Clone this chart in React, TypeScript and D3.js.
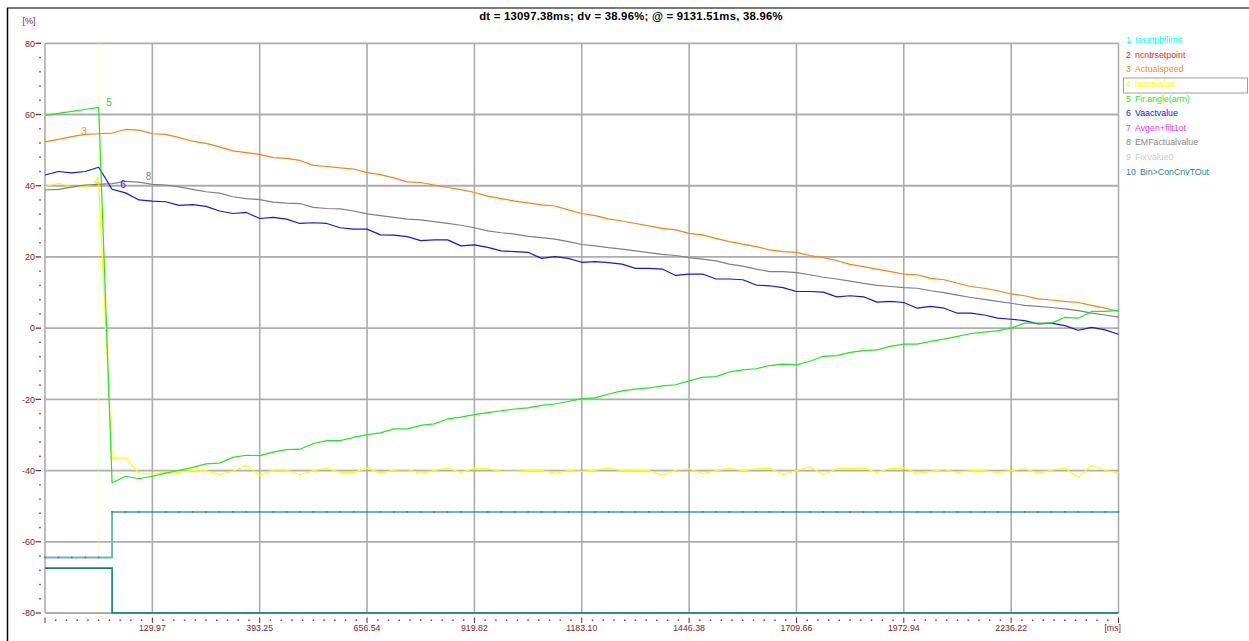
import React from "react";
import * as d3 from "d3";

// ---- data ----
const T0 = -133.31; // ms, first sample
const DT = 32.91; // ms, sample period
const sampleTimes = d3.range(81).map((i) => T0 + i * DT);

const actualSpeed = [
  52.3, 53.0, 53.8, 54.4, 54.6, 54.8, 55.8, 55.6, 54.6, 54.4, 53.5, 52.5, 51.9, 50.9, 49.8, 49.3, 48.8, 47.9, 47.7, 47.1, 45.7,
  45.4, 45.0, 44.7, 43.7, 43.1, 42.2, 41.1, 40.9, 40.2, 39.5, 38.9, 38.1, 37.1, 36.4, 35.7, 35.2, 34.6, 34.3, 33.2, 32.2,
  31.6, 30.7, 30.1, 29.4, 28.7, 28.0, 27.6, 26.6, 26.2, 25.2, 24.3, 23.6, 22.9, 22.0, 21.5, 21.3, 20.4, 19.8, 19.0, 17.9,
  17.3, 16.6, 15.9, 15.2, 15.0, 14.0, 13.6, 12.6, 11.7, 11.2, 10.5, 9.6, 9.1, 8.2, 7.9, 7.5, 7.2, 6.4, 5.6, 4.7,
];
const emfActual = [
  38.8, 39.0, 39.6, 40.2, 40.4, 40.6, 41.2, 41.0, 40.4, 40.2, 39.7, 39.0, 38.3, 37.9, 36.9, 36.4, 36.1, 35.4, 35.1, 35.0, 33.9,
  33.6, 33.5, 32.9, 32.1, 31.6, 31.1, 30.6, 30.4, 29.9, 29.4, 28.9, 28.2, 27.3, 26.8, 26.4, 25.8, 25.4, 25.0, 24.3, 23.5,
  23.1, 22.6, 22.2, 21.7, 21.2, 20.7, 20.4, 19.8, 19.4, 18.9, 18.0, 17.4, 16.6, 15.9, 15.9, 15.6, 15.0, 14.3, 13.8, 13.2,
  12.6, 12.0, 11.7, 11.4, 11.2, 10.5, 10.0, 9.3, 8.6, 8.1, 7.5, 7.0, 6.4, 6.1, 5.8, 5.4, 4.9, 4.2, 3.7, 3.1,
];
const vaActual = [
  43.0, 44.0, 43.6, 44.0, 45.2, 39.0, 38.0, 36.0, 35.7, 35.5, 34.5, 34.7, 34.2, 32.9, 32.2, 32.5, 30.8, 31.1, 30.6, 29.4, 29.6,
  29.4, 28.2, 27.8, 27.8, 26.2, 26.1, 25.7, 24.6, 24.8, 24.8, 23.1, 23.4, 22.7, 21.7, 21.5, 21.3, 19.6, 20.1, 19.6, 18.5,
  18.7, 18.4, 18.0, 16.8, 16.8, 16.6, 14.8, 15.2, 15.2, 13.8, 13.8, 13.6, 12.1, 11.9, 11.4, 10.3, 10.3, 10.1, 8.8, 9.1,
  8.8, 7.3, 7.5, 7.2, 5.6, 6.1, 5.6, 4.2, 4.2, 3.7, 2.8, 2.5, 2.1, 1.2, 1.4, 0.7, -0.6, 0.2, -0.5, -1.7,
];
const firAngle = [
  59.8, 60.3, 60.9, 61.4, 62.0, -43.5, -41.6, -42.3, -41.6, -40.7, -39.9, -39.1, -38.1, -37.9, -36.3, -35.7, -35.8, -34.8, -34.1, -34.0, -32.4,
  -31.6, -31.6, -30.7, -29.9, -29.4, -28.3, -28.3, -27.3, -26.9, -25.5, -25.0, -24.3, -23.7, -23.2, -22.7, -22.4, -21.7, -21.3, -20.6, -19.8,
  -19.6, -18.5, -17.6, -17.1, -16.8, -16.2, -15.9, -14.8, -13.8, -13.6, -12.3, -11.7, -11.4, -10.5, -10.1, -10.3, -9.3, -7.9, -7.7, -6.8,
  -6.3, -6.1, -5.1, -4.5, -4.5, -3.7, -3.1, -2.3, -1.5, -1.1, -0.7, 0.0, 1.4, 1.4, 1.4, 3.0, 2.8, 4.7, 4.7, 5.0,
];
const iaActual = [
  39.7, 40.7, 39.7, 39.7, 40.7, -36.6, -36.4, -40.7, -40.9, -40.5, -40.5, -39.9, -40.0, -41.1, -40.2, -38.6, -41.3, -39.9, -39.9, -41.1, -40.0,
  -39.4, -40.5, -40.5, -39.3, -40.7, -39.9, -39.7, -40.8, -40.0, -39.3, -40.5, -39.4, -39.5, -40.2, -40.2, -40.0, -39.9, -40.8, -40.0, -40.2,
  -39.9, -39.4, -40.0, -40.0, -40.0, -41.3, -39.9, -39.5, -40.9, -40.0, -39.4, -40.0, -39.5, -39.4, -41.1, -40.0, -39.0, -41.1, -39.5, -39.4,
  -39.3, -40.5, -39.4, -39.3, -40.8, -40.2, -39.7, -40.5, -40.0, -40.0, -40.5, -40.0, -39.5, -40.7, -39.9, -39.3, -41.9, -38.5, -39.9, -40.7,
];
const binOut = [
  -64.4, -64.4, -64.4, -64.4, -64.4, -51.6, -51.6, -51.6, -51.6, -51.6, -51.6, -51.6, -51.6, -51.6, -51.6, -51.6, -51.6, -51.6, -51.6, -51.6, -51.6,
  -51.6, -51.6, -51.6, -51.6, -51.6, -51.6, -51.6, -51.6, -51.6, -51.6, -51.6, -51.6, -51.6, -51.6, -51.6, -51.6, -51.6, -51.6, -51.6, -51.6,
  -51.6, -51.6, -51.6, -51.6, -51.6, -51.6, -51.6, -51.6, -51.6, -51.6, -51.6, -51.6, -51.6, -51.6, -51.6, -51.6, -51.6, -51.6, -51.6, -51.6,
  -51.6, -51.6, -51.6, -51.6, -51.6, -51.6, -51.6, -51.6, -51.6, -51.6, -51.6, -51.6, -51.6, -51.6, -51.6, -51.6, -51.6, -51.6, -51.6, -51.6,
];
const binOutRaw = [
  -67.4, -67.4, -67.4, -67.4, -67.4, -80, -80, -80, -80, -80, -80, -80, -80, -80, -80, -80, -80, -80, -80, -80, -80,
  -80, -80, -80, -80, -80, -80, -80, -80, -80, -80, -80, -80, -80, -80, -80, -80, -80, -80, -80, -80,
  -80, -80, -80, -80, -80, -80, -80, -80, -80, -80, -80, -80, -80, -80, -80, -80, -80, -80, -80, -80,
  -80, -80, -80, -80, -80, -80, -80, -80, -80, -80, -80, -80, -80, -80, -80, -80, -80, -80, -80, -80,
];

const xTickValues = [129.97, 393.25, 656.54, 919.82, 1183.1, 1446.38, 1709.66, 1972.94, 2236.22];
const xTickLabels = ["129.97", "393.25", "656.54", "919.82", "1183.10", "1446.38", "1709.66", "1972.94", "2236.22"];
const yTickValues = [80, 60, 40, 20, 0, -20, -40, -60, -80];

const legendNames = [
  "Iasetpbflimit",
  "ncntrsetpoint",
  "Actualspeed",
  "Iaactvalue",
  "Fir.angle(arm)",
  "Vaactvalue",
  "Avgen+filt1ot",
  "EMFactualvalue",
  "FixValue0",
  "Bin>ConCnvTOut",
];
const legendColors = ["#00ffff", "#ff2020", "#ff8c1a", "#ffff00", "#22ee22", "#1010ff", "#ff30ff", "#888888", "#cccccc", "#168c8c"];

const titleText = "dt = 13097.38ms; dv = 38.96%; @ = 9131.51ms, 38.96%";
const cursorTime = sampleTimes[4];

// ---- layout ----
const W = 1249;
const H = 641;
const L = 45;
const R = 1118.5;
const T = 43.3;
const B = 613;
const AXIS = "#8b1c1c";
const GRID = "#adadad";
const FONT = "'Liberation Sans', Arial, sans-serif";

export default function App() {
  const x = d3.scaleLinear().domain([T0, T0 + 80 * DT]).range([L, R]);
  const y = d3.scaleLinear().domain([-80, 80]).range([B, T]);

  const line = (vals: number[], curve = d3.curveLinear) =>
    d3
      .line<number>()
      .x((_, i) => x(sampleTimes[i]))
      .y((v) => y(v))
      .curve(curve)(vals) || "";

  const gridStep = 263.28;
  const gridX = d3.range(11).map((k) => T0 + k * gridStep);
  const minorX = d3.range(101).map((k) => T0 + (k * gridStep) / 10);
  const minorY = d3.range(-80, 81, 4);

  const series = [
    { vals: iaActual, color: "#ffff00", w: 1.2 },
    { vals: emfActual, color: "#808080", w: 1.2 },
    { vals: actualSpeed, color: "#ff8010", w: 1.2 },
    { vals: vaActual, color: "#1414f0", w: 1.2 },
    { vals: firAngle, color: "#1ee81e", w: 1.2 },
  ];

  return (
    <svg width={W} height={H} style={{ position: "absolute", left: 0, top: 0, background: "#fff" }} fontFamily={FONT}>
      {/* frame */}
      <line x1={7} x2={W} y1={8} y2={8} stroke="#7a7a7a" strokeWidth={2} />
      <line x1={7.5} x2={7.5} y1={8} y2={H} stroke="#000" strokeWidth={1.5} />

      {/* title */}
      <text x={631} y={19.5} textAnchor="middle" fontSize={11.3} letterSpacing={0.25} fontWeight="bold" fill="#000">
        {titleText}
      </text>

      {/* grid */}
      {gridX.map((t, k) => (
        <line key={"gx" + k} x1={x(t)} x2={x(t)} y1={T} y2={B} stroke={GRID} strokeWidth={1.6} />
      ))}
      {yTickValues.map((v) => (
        <line key={"gy" + v} x1={L} x2={R} y1={y(v)} y2={y(v)} stroke={GRID} strokeWidth={1.8} />
      ))}

      {/* y axis */}
      <text x={29} y={24} textAnchor="middle" fontSize={9} fill={AXIS}>
        [%]
      </text>
      {yTickValues.map((v) => (
        <g key={"yt" + v}>
          <text x={35} y={y(v) + 3.2} textAnchor="end" fontSize={9} fill={AXIS}>
            {v}
          </text>
          <line x1={35.5} x2={41} y1={y(v)} y2={y(v)} stroke={AXIS} strokeWidth={1.2} />
        </g>
      ))}
      {minorY
        .filter((v) => v % 20 !== 0)
        .map((v) => (
          <rect key={"my" + v} x={39.3} y={y(v) - 0.7} width={1.4} height={1.4} fill={AXIS} />
        ))}

      {/* x axis */}
      {minorX.map((t, k) =>
        k % 10 === 0 ? (
          <line key={"mx" + k} x1={x(t)} x2={x(t)} y1={617.5} y2={623} stroke={AXIS} strokeWidth={1} />
        ) : (
          <rect key={"mx" + k} x={x(t) - 0.7} y={619.5} width={1.4} height={1.4} fill={AXIS} />
        )
      )}
      {xTickValues.map((t, k) => (
        <text key={"xl" + k} x={x(t)} y={631} textAnchor="middle" fontSize={8.8} fill={AXIS}>
          {xTickLabels[k]}
        </text>
      ))}
      <text x={1121} y={631} textAnchor="end" fontSize={8.8} fill={AXIS}>
        [ms]
      </text>

      {/* cursor */}
      <line
        x1={x(cursorTime)}
        x2={x(cursorTime)}
        y1={T}
        y2={B}
        stroke="#ffff70"
        strokeWidth={1}
        strokeDasharray="1,1"
      />

      {/* binary signals */}
      <path d={line(binOutRaw, d3.curveStepAfter)} fill="none" stroke="#0a7f80" strokeWidth={1.6} />
      <path d={line(binOut, d3.curveStepAfter)} fill="none" stroke="#6fb6b6" strokeWidth={2} />
      {binOut.map((v, i) => (
        <rect key={"bm" + i} x={x(sampleTimes[i]) - 0.8} y={y(v) - 0.8} width={1.6} height={1.6} fill="#2a8a8a" />
      ))}

      {/* analog signals */}
      {series.map((s, k) => (
        <path key={"s" + k} d={line(s.vals)} fill="none" stroke={s.color} strokeWidth={s.w} strokeLinejoin="round" />
      ))}

      {/* curve labels */}
      <text x={109} y={106} textAnchor="middle" fontSize={10} fill="#22dd22">5</text>
      <text x={84} y={135} textAnchor="middle" fontSize={10} fill="#ff8c1a">3</text>
      <text x={123} y={187.5} textAnchor="middle" fontSize={10} fill="#2020ff">6</text>
      <text x={148.5} y={180} textAnchor="middle" fontSize={10} fill="#888888">8</text>
      <text x={97} y={184.5} textAnchor="middle" fontSize={10} fill="#f0f000">4</text>

      {/* legend */}
      <rect x={1123.5} y={78} width={124} height={15} fill="none" stroke="#a0a0a0" strokeWidth={1} />
      {legendNames.map((name, k) => (
        <g key={"lg" + k}>
          <text x={1126} y={43.2 + k * 14.6} fontSize={8.8} fill={legendColors[k]}>
            {k + 1}
          </text>
          <text x={k === 9 ? 1140 : 1135} y={43.2 + k * 14.6} fontSize={8.8} fill={legendColors[k]}>
            {name}
          </text>
        </g>
      ))}
    </svg>
  );
}
